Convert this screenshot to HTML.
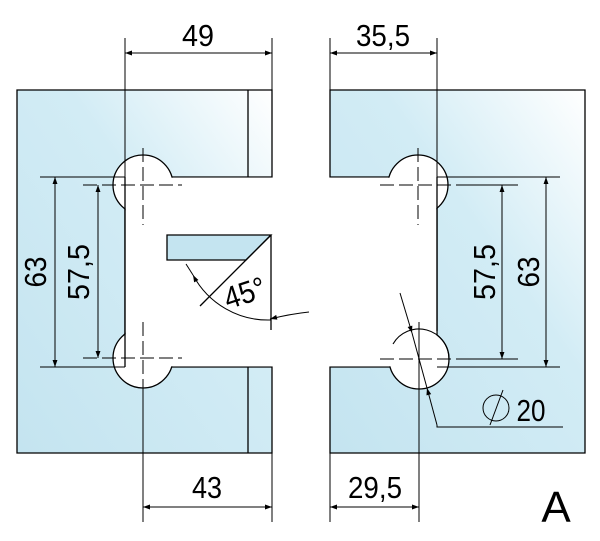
<!DOCTYPE html>
<html><head><style>html,body{margin:0;padding:0;background:#fff}svg{display:block}</style></head>
<body>
<svg width="600" height="541" viewBox="0 0 600 541" xmlns="http://www.w3.org/2000/svg" font-family="Liberation Sans, sans-serif">
<defs>
<linearGradient id="g" x1="0" y1="1" x2="1" y2="0">
<stop offset="0" stop-color="#c4e4f0"/><stop offset="0.6" stop-color="#d2ecf5"/><stop offset="1" stop-color="#ffffff"/>
</linearGradient>
<marker id="a" viewBox="0 0 10 10" refX="10" refY="5" markerWidth="24" markerHeight="7" markerUnits="userSpaceOnUse" orient="auto-start-reverse"><path d="M0,1.5 L10,5 L0,8.5 z" fill="#000"/></marker>
</defs>
<g stroke="#000" stroke-width="1.3">
<path d="M17,90 H272 V177 H125 V367 H272 V453 H17 Z" fill="url(#g)"/>
<line x1="248" y1="90" x2="248" y2="177"/>
<line x1="248" y1="367" x2="248" y2="453"/>
<path d="M330,90 H585 V453 H330 V367 H437 V177 H330 Z" fill="url(#g)"/>
<circle cx="143" cy="185" r="30" fill="#fff"/>
<circle cx="143" cy="358" r="30" fill="#fff"/>
<circle cx="418" cy="185" r="30" fill="#fff"/>
<circle cx="419" cy="359" r="30" fill="#fff"/>
</g>
<rect x="125.7" y="177.7" width="310.6" height="188.6" fill="#fff"/>
<g stroke="#000" stroke-width="1.3" fill="none">
<line x1="125" y1="177" x2="125" y2="367"/>
<line x1="437" y1="177" x2="437" y2="331"/>
<path d="M393,344 A30,30 0 0 1 449,359" stroke-width="1.1"/>
<path d="M167,235 H271 L246,260 H167 Z" fill="#c4e4f0"/>
<line x1="271" y1="235" x2="200" y2="306"/>
<line x1="271" y1="235" x2="271" y2="330"/>
<path d="M193,275 A85,85 0 0 0 271,320" marker-start="url(#a)" stroke-width="1"/>
<path d="M271,320 Q290,318 310,313" marker-end="url(#a)" stroke-width="1" transform="rotate(180 290 316)"/>
<line x1="193" y1="275" x2="186" y2="264" stroke-width="1"/>
</g>
<g stroke="#000" stroke-width="1" fill="none">
<g stroke-dasharray="14,5">
<line x1="83" y1="185" x2="182" y2="185"/><line x1="143" y1="148" x2="143" y2="225"/>
<line x1="83" y1="358" x2="182" y2="358"/><line x1="143" y1="322" x2="143" y2="398"/>
<line x1="380" y1="185" x2="460" y2="185"/><line x1="418" y1="148" x2="418" y2="225"/>
<line x1="380" y1="359" x2="460" y2="359"/><line x1="419" y1="322" x2="419" y2="398"/>
</g>
<line x1="125" y1="38" x2="125" y2="177"/><line x1="272" y1="38" x2="272" y2="90"/>
<line x1="125" y1="53" x2="272" y2="53" marker-start="url(#a)" marker-end="url(#a)"/>
<line x1="330" y1="38" x2="330" y2="90"/><line x1="437" y1="38" x2="437" y2="177"/>
<line x1="330" y1="53" x2="437" y2="53" marker-start="url(#a)" marker-end="url(#a)"/>
<line x1="143" y1="385" x2="143" y2="522"/><line x1="272" y1="453" x2="272" y2="522"/>
<line x1="143" y1="507" x2="272" y2="507" marker-start="url(#a)" marker-end="url(#a)"/>
<line x1="330" y1="453" x2="330" y2="522"/><line x1="419" y1="330" x2="419" y2="522"/>
<line x1="330" y1="507" x2="419" y2="507" marker-start="url(#a)" marker-end="url(#a)"/>
<line x1="40" y1="177" x2="125" y2="177"/><line x1="40" y1="367" x2="125" y2="367"/>
<line x1="55" y1="177" x2="55" y2="367" marker-start="url(#a)" marker-end="url(#a)"/>
<line x1="98" y1="185" x2="98" y2="358" marker-start="url(#a)" marker-end="url(#a)"/>
<line x1="437" y1="177" x2="560" y2="177"/><line x1="437" y1="367" x2="560" y2="367"/>
<line x1="460" y1="185" x2="518" y2="185"/><line x1="460" y1="359" x2="518" y2="359"/>
<line x1="502" y1="185" x2="502" y2="359" marker-start="url(#a)" marker-end="url(#a)"/>
<line x1="546" y1="177" x2="546" y2="367" marker-start="url(#a)" marker-end="url(#a)"/>
<line x1="400" y1="293" x2="412" y2="333" marker-end="url(#a)"/>
<line x1="412" y1="333" x2="427" y2="388"/>
<line x1="437" y1="425" x2="427" y2="388" marker-end="url(#a)"/>
<polyline points="437,425 437,427 563,427"/>
<circle cx="496" cy="408" r="13"/>
<line x1="490" y1="425" x2="503" y2="390"/>
</g>
<g font-size="31" fill="#000" text-anchor="middle">
<text x="198" y="46" textLength="32" lengthAdjust="spacingAndGlyphs">49</text>
<text x="383" y="46" textLength="54" lengthAdjust="spacingAndGlyphs">35,5</text>
<text x="207" y="498" textLength="30" lengthAdjust="spacingAndGlyphs">43</text>
<text x="375" y="498" textLength="54" lengthAdjust="spacingAndGlyphs">29,5</text>
<text x="531" y="421" textLength="29" lengthAdjust="spacingAndGlyphs">20</text>
<text transform="translate(46,272) rotate(-90)" textLength="31" lengthAdjust="spacingAndGlyphs">63</text>
<text transform="translate(89,272) rotate(-90)" textLength="56" lengthAdjust="spacingAndGlyphs">57,5</text>
<text transform="translate(495,272) rotate(-90)" textLength="56" lengthAdjust="spacingAndGlyphs">57,5</text>
<text transform="translate(539,272) rotate(-90)" textLength="31" lengthAdjust="spacingAndGlyphs">63</text>
<text transform="translate(248,303) rotate(-18)" textLength="42" lengthAdjust="spacingAndGlyphs">45°</text>
<text x="556" y="522" font-size="44">A</text>
</g>
</svg>
</body></html>
